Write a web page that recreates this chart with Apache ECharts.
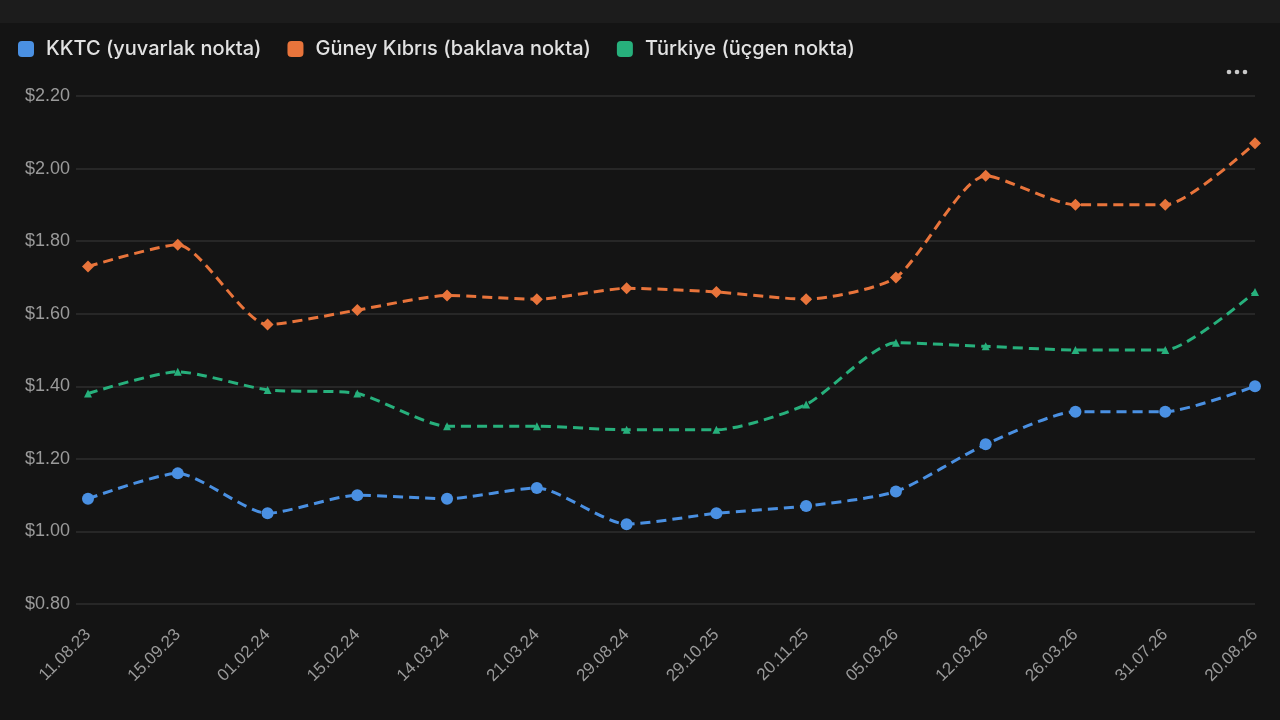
<!DOCTYPE html>
<html>
<head>
<meta charset="utf-8">
<script src="https://cdn.jsdelivr.net/npm/echarts@6/dist/echarts.min.js"></script>
<style>
  html, body { margin: 0; padding: 0; background: #141414; }
  #chart { width: 1280px; height: 720px; }
</style>
</head>
<body>
<div id="chart"></div>
<script>
const categories = ['11.08.23','15.09.23','01.02.24','15.02.24','14.03.24','21.03.24','29.08.24','29.10.25','20.11.25','05.03.26','12.03.26','26.03.26','31.07.26','20.08.26'];
const kktc    = [1.09, 1.16, 1.05, 1.10, 1.09, 1.12, 1.02, 1.05, 1.07, 1.11, 1.24, 1.33, 1.33, 1.40];
const guney   = [1.73, 1.79, 1.57, 1.61, 1.65, 1.64, 1.67, 1.66, 1.64, 1.70, 1.98, 1.90, 1.90, 2.07];
const turkiye = [1.38, 1.44, 1.39, 1.38, 1.29, 1.29, 1.28, 1.28, 1.35, 1.52, 1.51, 1.50, 1.50, 1.66];
const seriesNames = ['KKTC (yuvarlak nokta)', 'Güney Kıbrıs (baklava nokta)', 'Türkiye (üçgen nokta)'];
const yMin = 0.8, yMax = 2.2, yStep = 0.2;

const chart = echarts.init(document.getElementById('chart'));
const gridColor = '#2e2e2e';
function lineSeries(name, data, color, symbol, size) {
  return {
    name, type: 'line', data, smooth: 0.22,
    symbol, symbolSize: size,
    itemStyle: { color },
    lineStyle: { color, width: 3, type: [10, 6] },
    emphasis: { disabled: true }
  };
}
chart.setOption({
  backgroundColor: '#141414',
  animation: false,
  color: ['#4a90e2', '#e8743b', '#27b07c'],
  graphic: [
    { type: 'rect', shape: { x: 0, y: 0, width: 1280, height: 23 }, style: { fill: '#1c1c1c' }, z: -1 },
    { type: 'circle', shape: { cx: 1229, cy: 72, r: 2.3 }, style: { fill: '#c8c8c8' } },
    { type: 'circle', shape: { cx: 1237, cy: 72, r: 2.3 }, style: { fill: '#c8c8c8' } },
    { type: 'circle', shape: { cx: 1245, cy: 72, r: 2.3 }, style: { fill: '#c8c8c8' } }
  ],
  legend: {
    top: 34, left: 13,
    icon: 'roundRect',
    itemWidth: 16, itemHeight: 16, itemGap: 26,
    textStyle: { color: '#e2e2e2', fontSize: 20, fontFamily: 'Inter', fontWeight: 500, padding: [0, 0, 0, 7] },
    data: seriesNames
  },
  grid: { left: 88, right: 25, top: 96, bottom: 116, containLabel: false },
  xAxis: {
    type: 'category', data: categories, boundaryGap: false,
    axisLine: { show: false }, axisTick: { show: false },
    axisLabel: { rotate: 45, margin: 28, color: '#9a9a9a', fontSize: 17, fontFamily: 'Liberation Sans' },
    splitLine: { show: false }
  },
  yAxis: {
    type: 'value', min: yMin, max: yMax, interval: yStep,
    axisLine: { show: false },
    axisTick: { show: true, length: 12, lineStyle: { color: gridColor, width: 1.5 } },
    axisLabel: { margin: 18, color: '#9a9a9a', fontSize: 18, fontFamily: 'Liberation Sans', formatter: v => '$' + v.toFixed(2) },
    splitLine: { lineStyle: { color: gridColor, width: 1.5 } }
  },
  series: [
    lineSeries(seriesNames[0], kktc, '#4a90e2', 'circle', 12),
    lineSeries(seriesNames[1], guney, '#e8743b', 'diamond', 12),
    lineSeries(seriesNames[2], turkiye, '#27b07c', 'triangle', 8)
  ]
});
</script>
</body>
</html>
